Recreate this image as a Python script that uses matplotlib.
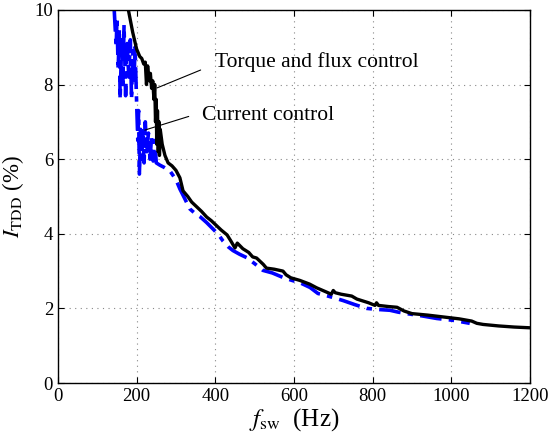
import matplotlib
matplotlib.use("Agg")
import matplotlib.pyplot as plt

plt.rcParams['font.family'] = ['Liberation Serif', 'DejaVu Serif']
plt.rcParams['mathtext.fontset'] = 'stix'

# Torque and flux control (black)
f_tf = [179, 190, 200, 208, 213, 218, 222, 225, 228, 232, 235, 238, 241, 244, 246, 248, 250,
        251, 253, 255, 257, 258, 260, 265, 272, 280, 290, 300, 310, 318, 330, 340, 350, 365,
        378, 390, 400, 415, 430, 440, 450, 456, 470, 485, 495, 505, 515, 522, 530, 550, 572,
        580, 592, 615, 640, 658, 680, 695, 700, 705, 720, 747, 760, 790, 806, 810, 815, 840,
        862, 880, 900, 940, 980, 1020, 1052, 1065, 1081, 1120, 1160, 1200]
i_tf = [10.0, 9.4, 8.95, 8.75, 8.7, 8.55, 8.6, 8.0, 8.5, 8.1, 8.3, 7.9, 8.1, 7.6, 8.0, 7.0, 7.6,
        6.4, 7.3, 6.2, 7.0, 6.1, 6.8, 6.4, 6.1, 5.9, 5.82, 5.7, 5.5, 5.15, 5.0, 4.85, 4.75, 4.6,
        4.45, 4.35, 4.25, 4.1, 3.97, 3.8, 3.62, 3.75, 3.6, 3.5, 3.38, 3.35, 3.25, 3.18, 3.08, 3.05, 3.0,
        2.9, 2.82, 2.75, 2.65, 2.55, 2.45, 2.38, 2.48, 2.42, 2.38, 2.33, 2.25, 2.15, 2.08, 2.15, 2.08, 2.05,
        2.03, 1.93, 1.86, 1.82, 1.77, 1.72, 1.66, 1.6, 1.57, 1.53, 1.5, 1.48]

# Current control (blue)
f_cc = [143, 148, 150, 153, 156, 158, 162, 165, 168, 172, 176, 180, 184, 187, 190, 193, 196, 200,
        203, 205, 207, 210, 213, 216, 219, 222, 226, 230, 234, 238, 242, 246, 250, 259, 270, 285,
        300, 310, 322, 335, 348, 361, 378, 394, 408, 420, 433, 445, 462, 480, 500, 521, 545, 572,
        595, 615, 641, 661, 690, 725, 755, 785, 815, 844, 865, 887, 925, 963, 1005, 1047]
i_cc = [10.0, 9.0, 9.8, 8.4, 9.5, 7.6, 9.2, 8.0, 9.6, 7.7, 9.1, 8.2, 9.2, 7.6, 8.9, 8.0, 9.0, 7.5,
        6.5, 7.3, 5.6, 6.8, 6.0, 6.8, 5.9, 7.0, 6.2, 6.7, 6.0, 6.6, 5.95, 6.5, 5.9, 5.84, 5.78, 5.68,
        5.45, 5.2, 4.95, 4.67, 4.55, 4.46, 4.3, 4.13, 3.98, 3.8, 3.65, 3.55, 3.45, 3.36, 3.2, 3.02, 2.95, 2.83,
        2.75, 2.69, 2.56, 2.4, 2.32, 2.21, 2.1, 2.0, 1.97, 1.95, 1.9, 1.86, 1.8, 1.73, 1.68, 1.6]

x_ticks = [0, 200, 400, 600, 800, 1000, 1200]
y_ticks = [0, 2, 4, 6, 8, 10]

fig = plt.figure(figsize=(5.48, 4.41), dpi=100)
ax = fig.add_axes([0.1058, 0.1315, 0.8612, 0.846])

ax.plot(f_cc, i_cc, color='#0000ff', linestyle='-.', linewidth=2.6,
        dashes=(6, 2, 1.5, 2))
ax.plot(f_tf, i_tf, color='black', linestyle='-', linewidth=2.4)

ax.set_xlim(0, 1200)
ax.set_ylim(0, 10)
ax.set_xticks(x_ticks)
ax.set_yticks(y_ticks)
ax.tick_params(direction='in', labelsize=13.5, length=4, width=0.8, top=True, right=True,
               labeltop=False, labelright=False)
ax.grid(True, linestyle=(0, (1, 4)), color='#888888', linewidth=0.8)
for s in ax.spines.values():
    s.set_linewidth(1.0)

ax.set_xlabel(r'$f_{\rm sw}$  (Hz)', fontsize=18, labelpad=1)
ax.set_ylabel(r'$I_{\rm TDD}$ (%)', fontsize=16.5, labelpad=6)

ax.annotate('Torque and flux control', xy=(252, 7.91), xytext=(399, 8.47),
            fontsize=15.5, va='baseline', ha='left',
            arrowprops=dict(arrowstyle='-', color='black', lw=0.8,
                            shrinkA=0, shrinkB=0, relpos=(-0.07, 0.1)))
ax.annotate('Current control', xy=(221, 6.78), xytext=(366, 7.05),
            fontsize=15.5, va='baseline', ha='left',
            arrowprops=dict(arrowstyle='-', color='black', lw=0.8,
                            shrinkA=0, shrinkB=0, relpos=(-0.1, 0.45)))

fig.savefig('out.png', dpi=100)
